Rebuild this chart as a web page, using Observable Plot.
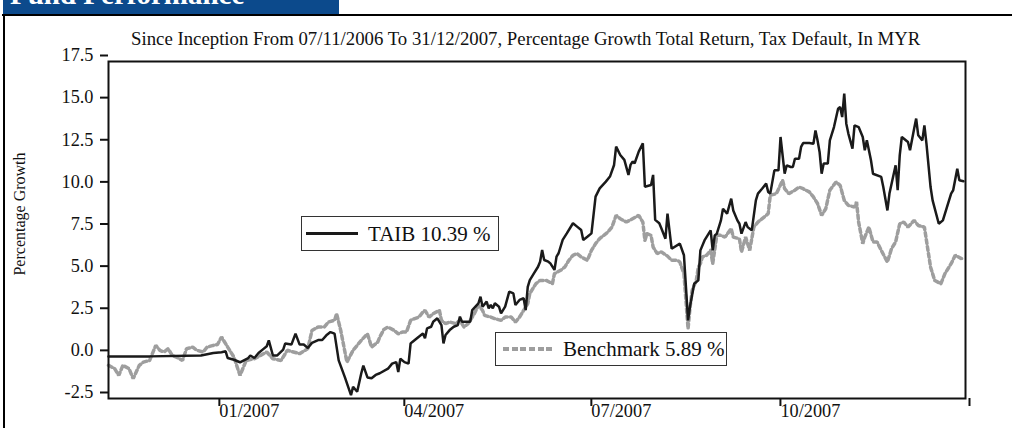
<!DOCTYPE html>
<html>
<head>
<meta charset="utf-8">
<script src="https://cdn.jsdelivr.net/npm/d3@7"></script>
<script src="https://cdn.jsdelivr.net/npm/@observablehq/plot@0.6"></script>
<style>
  html, body { margin: 0; padding: 0; background: #fff; }
  #wrap { position: relative; width: 1012px; height: 428px; overflow: hidden;
          font-family: "Liberation Serif", "Times New Roman", serif; color: #111; }
  #banner { position: absolute; left: 3px; top: 0; width: 336px; height: 13.5px; background: #0c4a8c; overflow: hidden; }
  #banner span { position: absolute; left: 7px; top: -19.8px; font-size: 29px; line-height: 29px; font-weight: bold; color: #fff; white-space: nowrap; }
  #topline { position: absolute; left: 2px; top: 14px; width: 1010px; height: 2px; background: #000; }
  #leftline { position: absolute; left: 3px; top: 14px; width: 2px; height: 414px; background: #000; }
  #title { position: absolute; left: 131px; top: 30.3px; font-size: 18.8px; line-height: 18.8px; white-space: nowrap; }
  #ylabel { position: absolute; left: -130px; top: 205.5px; width: 300px; height: 16px; font-size: 16px; line-height: 16px;
            text-align: center; transform: rotate(-90deg); white-space: nowrap; }
  #chart { position: absolute; left: 0; top: 0; }
  .legbox { position: absolute; box-sizing: border-box; border: 1.5px solid #333; background: #fff; }
  .legtext { position: absolute; font-size: 21px; line-height: 21px; white-space: nowrap; }
  .sample { position: absolute; }
</style>
</head>
<body>
<div id="wrap">
  <div id="banner"><span>Fund Performance</span></div>
  <div id="topline"></div>
  <div id="leftline"></div>
  <div id="title">Since Inception From 07/11/2006 To 31/12/2007, Percentage Growth Total Return, Tax Default, In MYR</div>
  <div id="ylabel">Percentage Growth</div>
  <div id="chart"></div>
  <div class="legbox" style="left:301px; top:216px; width:198px; height:35px;"></div>
  <div class="sample" style="left:306px; top:232px; width:52px; height:2.5px; background:#1a1a1a;"></div>
  <div class="legtext" id="leg1" style="left:368px; top:224.4px;"></div>
  <div class="legbox" style="left:495px; top:332px; width:232px; height:34px;"></div>
  <div class="sample" style="left:503px; top:346.5px; width:52px; height:4px; background:repeating-linear-gradient(to right, #9e9e9e 0 6px, transparent 6px 8.7px);"></div>
  <div class="legtext" id="leg2" style="left:563px; top:339.1px;"></div>
</div>
<script>
const seriesNames = ["TAIB", "Benchmark"];
const seriesFinal = [10.39, 5.89];

const taibDates = [
"2006-11-10","2006-11-30","2006-12-25","2006-12-31","2007-01-04","2007-01-06","2007-01-07","2007-01-10","2007-01-13","2007-01-17",
"2007-01-18","2007-01-20","2007-01-22","2007-01-24","2007-01-26","2007-01-27","2007-01-29","2007-01-31","2007-02-03","2007-02-04",
"2007-02-07","2007-02-09","2007-02-11","2007-02-13","2007-02-15","2007-02-17","2007-02-20","2007-02-22","2007-02-24","2007-02-26",
"2007-02-28","2007-03-02","2007-03-05","2007-03-08","2007-03-09","2007-03-11","2007-03-13","2007-03-14","2007-03-16","2007-03-18",
"2007-03-20","2007-03-22","2007-03-26","2007-03-28","2007-03-30","2007-03-31","2007-04-01","2007-04-03","2007-04-05","2007-04-06",
"2007-04-07","2007-04-10","2007-04-12","2007-04-13","2007-04-14","2007-04-16","2007-04-17","2007-04-19","2007-04-21","2007-04-22",
"2007-04-23","2007-04-25","2007-04-27","2007-04-29","2007-04-30","2007-05-01","2007-05-05","2007-05-06","2007-05-09","2007-05-10",
"2007-05-11","2007-05-13","2007-05-14","2007-05-15","2007-05-16","2007-05-17","2007-05-19","2007-05-20","2007-05-22","2007-05-24",
"2007-05-26","2007-05-27","2007-05-29","2007-05-31","2007-06-01","2007-06-02","2007-06-03","2007-06-05","2007-06-07","2007-06-08",
"2007-06-09","2007-06-10","2007-06-12","2007-06-13","2007-06-15","2007-06-16","2007-06-17","2007-06-19","2007-06-21","2007-06-24",
"2007-06-26","2007-06-28","2007-06-29","2007-07-01","2007-07-03","2007-07-05","2007-07-07","2007-07-10","2007-07-12","2007-07-14",
"2007-07-15","2007-07-17","2007-07-19","2007-07-21","2007-07-22","2007-07-23","2007-07-24","2007-07-26","2007-07-28","2007-07-29",
"2007-08-01","2007-08-02","2007-08-03","2007-08-05","2007-08-06","2007-08-08","2007-08-09","2007-08-11","2007-08-15","2007-08-17",
"2007-08-19","2007-08-20","2007-08-22","2007-08-24","2007-08-25","2007-08-27","2007-08-30","2007-08-31","2007-09-01","2007-09-02",
"2007-09-04","2007-09-05","2007-09-07","2007-09-09","2007-09-10","2007-09-12","2007-09-13","2007-09-14","2007-09-16","2007-09-17",
"2007-09-19","2007-09-21","2007-09-22","2007-09-24","2007-09-26","2007-09-27","2007-09-28","2007-09-30","2007-10-02","2007-10-03",
"2007-10-05","2007-10-06","2007-10-08","2007-10-09","2007-10-10","2007-10-12","2007-10-13","2007-10-14","2007-10-17","2007-10-19",
"2007-10-20","2007-10-21","2007-10-22","2007-10-23","2007-10-24","2007-10-26","2007-10-27","2007-10-29","2007-10-31","2007-11-01",
"2007-11-02","2007-11-03","2007-11-04","2007-11-05","2007-11-07","2007-11-08","2007-11-10","2007-11-12","2007-11-13","2007-11-14",
"2007-11-16","2007-11-17","2007-11-21","2007-11-22","2007-11-24","2007-11-25","2007-11-28","2007-11-29","2007-11-30","2007-12-01",
"2007-12-04","2007-12-05","2007-12-07","2007-12-08","2007-12-09","2007-12-11","2007-12-12","2007-12-13","2007-12-15","2007-12-16",
"2007-12-19","2007-12-21","2007-12-25","2007-12-26","2007-12-28","2007-12-29","2007-12-31"
];
const taibValues = [
0,0,0.05,0.2,0.25,0.3,-0.1,-0.2,-0.35,-0.1,
0.05,-0.1,0.2,0.4,0.6,0.95,0.05,0.05,0.4,0.77,
0.7,1.35,0.7,0.7,0.5,0.8,0.97,0.97,1.25,1.44,
1.35,-0.24,-1.23,-2.3,-1.8,-2.1,-1.0,-0.55,-1.25,-1.3,
-1.1,-1.0,-0.73,-0.43,-0.34,-0.93,-0.14,-0.34,-0.43,0.77,
0.87,1.17,1.36,1.07,1.66,1.76,2.06,2.26,1.86,0.77,
1.27,1.56,1.76,1.86,2.36,2.06,2.06,2.75,3.15,3.54,
2.95,3.25,2.85,3.05,2.85,3.15,2.95,2.55,2.95,3.84,
3.74,3.05,3.35,3.45,2.75,4.13,4.53,4.93,5.32,5.62,
6.31,5.72,5.62,5.52,5.13,5.92,6.12,6.91,7.3,7.9,
7.7,7.5,6.91,7.1,7.3,9.48,9.97,10.37,10.67,11.36,
12.45,11.95,11.66,10.77,11.36,11.56,11.46,12.15,12.65,10.07,
10.17,10.77,8.1,7.9,7.6,6.98,8.47,6.39,6.69,6.0,
2.14,3.0,4.31,4.51,6.29,6.88,7.48,6.29,7.18,7.28,
8.07,8.76,8.47,9.36,8.66,8.07,7.87,7.28,7.97,7.67,
7.48,9.26,9.66,9.95,10.25,9.76,9.66,11.04,11.04,13.02,
10.84,11.34,11.24,11.24,11.73,11.73,12.43,12.66,12.66,12.62,
13.41,12.82,12.13,10.84,11.44,11.44,12.82,13.61,14.7,14.8,
14.2,15.59,13.81,13.22,12.33,13.71,13.61,13.02,12.23,12.82,
11.64,10.84,10.65,10.05,8.66,9.66,11.34,9.86,11.93,13.02,
12.72,12.23,13.51,14.11,13.12,12.82,13.71,12.62,10.05,9.26,
7.87,8.07,9.66,9.86,11.14,10.45,10.39
];

const benchDates = [
"2006-11-10","2006-11-13","2006-11-15","2006-11-17","2006-11-20","2006-11-22","2006-11-25","2006-11-27","2006-11-30","2006-12-01",
"2006-12-03","2006-12-05","2006-12-07","2006-12-09","2006-12-11","2006-12-13","2006-12-16","2006-12-18","2006-12-21","2006-12-23",
"2006-12-26","2006-12-28","2006-12-31","2007-01-02","2007-01-04","2007-01-07","2007-01-10","2007-01-13","2007-01-16","2007-01-20",
"2007-01-23","2007-01-26","2007-01-29","2007-02-02","2007-02-05","2007-02-08","2007-02-11","2007-02-15","2007-02-17","2007-02-20",
"2007-02-23","2007-02-25","2007-02-28","2007-03-01","2007-03-03","2007-03-06","2007-03-09","2007-03-13","2007-03-16","2007-03-18",
"2007-03-21","2007-03-22","2007-03-24","2007-03-26","2007-03-29","2007-03-31","2007-04-02","2007-04-04","2007-04-06","2007-04-08",
"2007-04-10","2007-04-12","2007-04-13","2007-04-15","2007-04-17","2007-04-20","2007-04-21","2007-04-23","2007-04-25","2007-04-28",
"2007-04-30","2007-05-02","2007-05-04","2007-05-07","2007-05-09","2007-05-11","2007-05-12","2007-05-15","2007-05-17","2007-05-20",
"2007-05-22","2007-05-25","2007-05-27","2007-05-29","2007-05-31","2007-06-02","2007-06-03","2007-06-06","2007-06-08","2007-06-11",
"2007-06-14","2007-06-15","2007-06-18","2007-06-20","2007-06-22","2007-06-24","2007-06-26","2007-06-28","2007-07-01","2007-07-03",
"2007-07-05","2007-07-07","2007-07-11","2007-07-13","2007-07-15","2007-07-17","2007-07-20","2007-07-23","2007-07-26","2007-07-28",
"2007-07-29","2007-07-30","2007-08-01","2007-08-02","2007-08-04","2007-08-06","2007-08-09","2007-08-11","2007-08-14","2007-08-15",
"2007-08-17","2007-08-19","2007-08-20","2007-08-21","2007-08-23","2007-08-24","2007-08-25","2007-08-26","2007-08-28","2007-08-30",
"2007-08-31","2007-09-02","2007-09-04","2007-09-06","2007-09-09","2007-09-10","2007-09-13","2007-09-14","2007-09-16","2007-09-18",
"2007-09-20","2007-09-22","2007-09-25","2007-09-27","2007-09-28","2007-10-01","2007-10-04","2007-10-05","2007-10-07","2007-10-10",
"2007-10-12","2007-10-14","2007-10-17","2007-10-19","2007-10-21","2007-10-23","2007-10-25","2007-10-27","2007-10-30","2007-11-01",
"2007-11-03","2007-11-05","2007-11-08","2007-11-09","2007-11-10","2007-11-12","2007-11-13","2007-11-15","2007-11-17","2007-11-19",
"2007-11-21","2007-11-24","2007-11-26","2007-11-28","2007-11-30","2007-12-02","2007-12-04","2007-12-07","2007-12-09","2007-12-12",
"2007-12-13","2007-12-15","2007-12-17","2007-12-20","2007-12-22","2007-12-25","2007-12-27","2007-12-30","2007-12-31"
];
const benchValues = [
-0.53,-0.73,-1.13,-0.53,-0.73,-1.32,-0.53,-0.34,-0.24,0.06,
0.65,0.36,0.26,0.46,0.06,-0.04,-0.24,0.46,0.55,0.36,
0.26,0.55,0.65,0.7,1.15,0.55,-0.04,-1.13,-0.24,-0.14,
0.06,0.26,-0.14,-0.24,0.36,0.26,0.16,0.46,1.54,1.74,
1.74,2.04,2.14,2.53,1.54,-0.34,0.36,0.95,1.34,0.55,
0.85,1.15,1.6,1.74,1.54,1.34,1.44,1.44,2.14,2.24,
2.33,2.63,2.73,2.33,2.53,2.73,2.14,1.94,2.04,1.94,
2.14,1.74,1.94,2.53,3.03,2.73,2.43,2.33,2.24,2.14,
2.33,2.33,2.04,2.33,2.73,3.13,3.73,4.32,4.51,4.51,
4.32,4.91,5.11,5.3,5.7,6.0,6.1,5.9,5.7,6.29,
6.69,6.99,7.38,7.68,8.37,8.17,7.97,8.17,8.37,7.97,
6.88,7.28,7.18,6.49,6.1,6.2,5.95,5.7,5.7,5.6,
4.9,1.64,2.93,3.92,4.51,5.3,5.5,5.9,6.0,6.3,
5.5,7.2,7.18,7.08,7.58,7.08,6.98,6.19,7.08,6.29,
7.67,7.97,8.27,8.47,9.56,9.66,10.45,9.95,9.66,9.86,
10.05,9.95,9.76,9.46,9.07,8.37,8.76,9.86,10.35,10.15,
9.26,8.96,8.86,9.16,7.97,6.69,7.08,7.67,6.79,6.79,
6.29,5.6,6.39,6.79,7.87,7.97,7.67,8.07,7.77,7.67,
6.88,5.3,4.51,4.31,4.91,5.5,6.0,5.8,5.89
];

const yTicks = [-2.5, 0, 2.5, 5, 7.5, 10, 12.5, 15, 17.5];
const xTickDates = ["2007-01-01", "2007-04-01", "2007-07-01", "2007-10-01", "2008-01-01"];
const xTickLabels = ["01/2007", "04/2007", "07/2007", "10/2007", ""];
const xDomain = ["2006-11-10", "2008-01-01"];

const taib = taibDates.map((d, i) => ({date: new Date(d), value: taibValues[i]}));
const bench = benchDates.map((d, i) => ({date: new Date(d), value: benchValues[i]}));
const xLabelMap = new Map(xTickDates.map((d, i) => [new Date(d).getTime(), xTickLabels[i]]));

document.getElementById("leg1").textContent = `${seriesNames[0]} ${seriesFinal[0].toFixed(2)} %`;
document.getElementById("leg2").textContent = `${seriesNames[1]} ${seriesFinal[1].toFixed(2)} %`;

const chart = Plot.plot({
  width: 1012,
  height: 428,
  marginLeft: 108,
  marginRight: 47,
  marginTop: 61,
  marginBottom: 30,
  style: {fontFamily: '"Liberation Serif", "Times New Roman", serif', fontSize: "18.3px", color: "#111", background: "transparent", overflow: "visible"},
  x: {type: "utc", domain: xDomain.map(d => new Date(d))},
  y: {domain: [-2.5, 17.5]},
  marks: [
    Plot.axisY({ticks: yTicks, tickFormat: d => d.toFixed(1), tickSize: 8, tickPadding: 7, strokeWidth: 2, dy: -6, label: null, fontSize: 18.3}),
    Plot.axisX({ticks: xTickDates.map(d => new Date(d)), tickFormat: d => xLabelMap.get(d.getTime()) ?? "", tickSize: 8, tickPadding: -3,
                textAnchor: "start", dx: 4, strokeWidth: 2, label: null, fontSize: 18.3}),
    Plot.line(bench, {x: "date", y: "value", stroke: "#9e9e9e", strokeWidth: 3.5, strokeDasharray: "4,3", strokeLinejoin: "miter"}),
    Plot.line(taib, {x: "date", y: "value", stroke: "#1a1a1a", strokeWidth: 2.5, strokeLinejoin: "miter"}),
    Plot.frame({stroke: "#111", strokeWidth: 2})
  ]
});
document.getElementById("chart").appendChild(chart);
</script>
</body>
</html>
